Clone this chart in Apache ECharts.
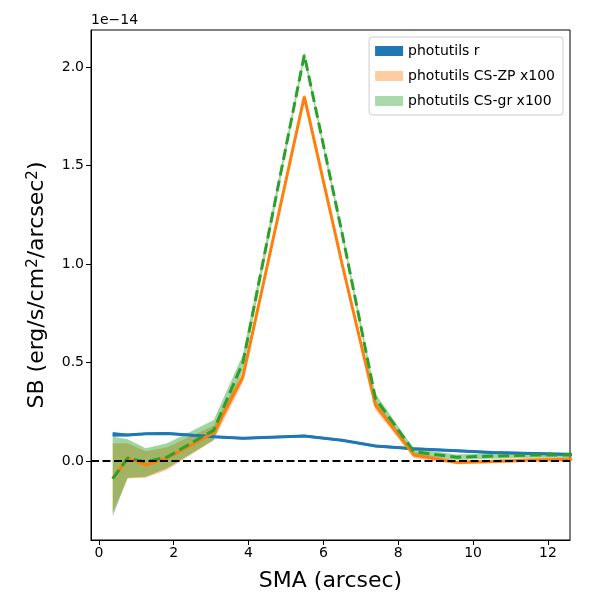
<!DOCTYPE html>
<html>
<head>
<meta charset="utf-8">
<script src="https://cdn.jsdelivr.net/npm/echarts@6/dist/echarts.min.js"></script>
<style>html,body{margin:0;padding:0;background:#fff}#c{width:600px;height:600px}</style>
</head>
<body>
<div id="c"></div>
<script>
// SMA (arcsec)
const sma = [0.37, 0.77, 1.25, 1.83, 3.07, 3.85, 5.49, 6.5, 7.39, 8.42, 9.56, 10.5, 11.6, 12.8];
// SB in units of 1e-14
const rLine  = [0.135, 0.132, 0.138, 0.140, 0.123, 0.115, 0.127, 0.105, 0.076, 0.062, 0.052, 0.043, 0.038, 0.033];
const rLow   = [0.123, 0.126, 0.132, 0.134, 0.117, 0.109, 0.121, 0.099, 0.070, 0.056, 0.046, 0.037, 0.032, 0.027];
const rHigh  = [0.147, 0.138, 0.144, 0.146, 0.129, 0.121, 0.133, 0.111, 0.082, 0.068, 0.058, 0.049, 0.044, 0.039];
const zpLine = [-0.091, 0.013, -0.020, 0.015, 0.144, 0.428, 1.850, 1.000, 0.284, 0.030, -0.007, -0.002, 0.005, 0.009];
const zpLow  = [-0.260, -0.089, -0.085, -0.045, 0.105, 0.400, 1.835, 0.985, 0.260, 0.015, -0.017, -0.012, -0.005, -0.001];
const zpHigh = [0.090, 0.090, 0.050, 0.070, 0.180, 0.455, 1.865, 1.015, 0.310, 0.045, 0.003, 0.008, 0.015, 0.019];
const grLine = [-0.090, 0.015, -0.004, 0.020, 0.157, 0.500, 2.061, 1.156, 0.318, 0.047, 0.019, 0.025, 0.030, 0.030];
const grLow  = [-0.280, -0.085, -0.080, -0.035, 0.107, 0.460, 2.040, 1.135, 0.293, 0.032, 0.005, 0.012, 0.017, 0.017];
const grHigh = [0.123, 0.110, 0.065, 0.090, 0.208, 0.540, 2.078, 1.175, 0.343, 0.062, 0.033, 0.038, 0.043, 0.043];
const xTicks = [0, 2, 4, 6, 8, 10, 12];
const yTicks = [0, 0.5, 1.0, 1.5, 2.0];
const names = ['photutils r', 'photutils CS-ZP x100', 'photutils CS-gr x100'];

const pairs = (xs, ys) => xs.map((x, i) => [x, ys[i]]);
const FONT = 'DejaVu Sans';

function band(name, low, high, fill) {
  return {
    type: 'custom', name: name, clip: true, silent: true, z: 1,
    itemStyle: { color: fill },
    data: sma.map((x, i) => [x, low[i], high[i]]),
    encode: { x: 0, y: [1, 2] },
    renderItem: function (params, api) {
      if (params.dataIndex !== 0) return null;
      const top = [], bot = [];
      for (let i = 0; i < sma.length; i++) {
        top.push(api.coord([sma[i], high[i]]));
        bot.push(api.coord([sma[i], low[i]]));
      }
      return { type: 'polygon', shape: { points: top.concat(bot.reverse()) },
               style: { fill: fill, stroke: null } };
    }
  };
}
function line(key, ys, color, dashed) {
  return { type: 'line', name: key + '_line', data: pairs(sma, ys), symbol: 'none',
    lineStyle: { color: color, width: 3, type: dashed ? [11, 5] : 'solid', cap: 'butt' },
    itemStyle: { color: color }, z: 3, silent: true };
}

const series = [
  band(names[0], rLow, rHigh, 'rgba(31,119,180,0.95)'),
  band(names[1], zpLow, zpHigh, 'rgba(255,127,14,0.45)'),
  band(names[2], grLow, grHigh, 'rgba(44,160,44,0.45)'),
  line('r', rLine, '#1f77b4', false),
  line('zp', zpLine, '#ff7f0e', false),
  line('gr', grLine, '#2ca02c', true),
  { type: 'line', name: 'zero', data: [], z: 5, silent: true,
    markLine: { silent: true, symbol: 'none', label: { show: false },
      lineStyle: { color: '#000', width: 2, type: [8, 3.5] },
      data: [{ yAxis: 0 }] } }
];

const chart = echarts.init(document.getElementById('c'), null, { renderer: 'canvas' });
chart.setOption({
  animation: false,
  backgroundColor: '#fff',
  textStyle: { fontFamily: FONT },
  grid: { left: 91, right: 30, top: 30, bottom: 60, containLabel: false,
          show: true, borderColor: '#000', borderWidth: 1, backgroundColor: 'transparent' },
  legend: {
    right: 37, top: 37, orient: 'vertical', icon: 'rect', itemWidth: 28, itemHeight: 10,
    itemGap: 11, padding: [7, 8, 7, 6], backgroundColor: 'rgba(255,255,255,0.8)',
    borderColor: '#cccccc', borderWidth: 1, borderRadius: 3,
    textStyle: { fontFamily: FONT, fontSize: 14, color: '#000' },
    data: [
      { name: names[0], itemStyle: { color: '#1f77b4' } },
      { name: names[1], itemStyle: { color: 'rgba(255,127,14,0.4)' } },
      { name: names[2], itemStyle: { color: 'rgba(44,160,44,0.4)' } }
    ],
    selectedMode: false
  },
  xAxis: {
    type: 'value', min: -0.21, max: 12.59,
    name: 'SMA (arcsec)', nameLocation: 'middle', nameGap: 30,
    nameTextStyle: { fontFamily: FONT, fontSize: 22, color: '#000' },
    axisLine: { show: true, onZero: false, lineStyle: { color: '#000', width: 1 } },
    axisTick: { show: true, inside: false, length: 5, lineStyle: { color: '#000' }, customValues: xTicks },
    axisLabel: { fontFamily: FONT, fontSize: 14, color: '#000', margin: 6, customValues: xTicks,
                 formatter: v => String(v) },
    splitLine: { show: false }
  },
  yAxis: {
    type: 'value', min: -0.401, max: 2.188,
    name: '{a|SB (erg/s/cm}{s|2}{a|/arcsec}{s|2}{a|)}', nameLocation: 'middle', nameGap: 42,
    nameTextStyle: { fontFamily: FONT, fontSize: 22, color: '#000',
      rich: { a: { fontFamily: FONT, fontSize: 22, color: '#000' },
              s: { fontFamily: FONT, fontSize: 15, color: '#000', verticalAlign: 'top', padding: [0, 0, 8, 0] } } },
    axisLine: { show: true, onZero: false, lineStyle: { color: '#000', width: 1 } },
    axisTick: { show: true, inside: false, length: 5, lineStyle: { color: '#000' }, customValues: yTicks },
    axisLabel: { fontFamily: FONT, fontSize: 14, color: '#000', margin: 7, customValues: yTicks,
                 formatter: v => v.toFixed(1) },
    splitLine: { show: false }
  },
  graphic: [{ type: 'text', left: 91, top: 13,
    style: { text: '1e\u221214', fontFamily: FONT, fontSize: 14, fill: '#000' } }],
  series: series
});
</script>
</body>
</html>
